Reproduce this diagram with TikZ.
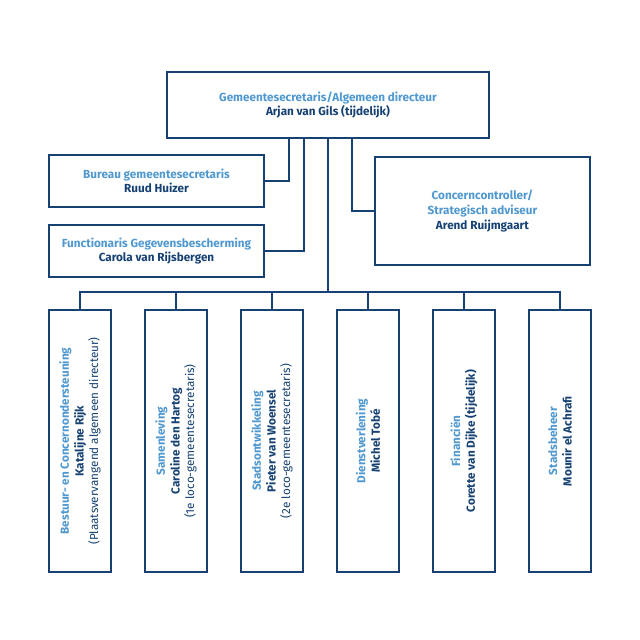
\documentclass[tikz,border=0pt]{standalone}
\usepackage{fontspec}
\setmainfont{Fira Sans}
\usetikzlibrary{calc}
\definecolor{navy}{RGB}{22,65,115}
\definecolor{lightblue}{RGB}{79,152,208}
\tikzset{
  unit/.style  = {draw=navy, line width=2pt, fill=white, inner sep=0pt,
                  align=center, font=\fontsize{10}{12.5}\selectfont},
  dept/.style  = {unit, minimum width=62*0.03cm, minimum height=262*0.03cm},
  link/.style  = {draw=navy, line width=2pt},
}
\newcommand{\role}[1]{\textcolor{lightblue}{\textbf{#1}}}
\newcommand{\who}[1]{\textcolor{navy}{\textbf{#1}}}
\newcommand{\note}[1]{\textcolor{navy}{#1}}

\begin{document}
\begin{tikzpicture}[x=0.03cm,y=-0.03cm]
\useasboundingbox (0,0) rectangle (640,640);

% -------------------- Nodes --------------------
\node[unit, minimum width=322*0.03cm, minimum height=66*0.03cm] (top) at (328,105)
  {\role{Gemeentesecretaris/Algemeen directeur}\\ \who{Arjan van Gils (tijdelijk)}};
\node[unit, minimum width=215*0.03cm, minimum height=52*0.03cm] (bureau) at (156.5,181)
  {\role{Bureau gemeentesecretaris}\\ \who{Ruud Huizer}};
\node[unit, minimum width=215*0.03cm, minimum height=52*0.03cm] (fg) at (156.5,251)
  {\role{Functionaris Gegevensbescherming}\\ \who{Carola van Rijsbergen}};
\node[unit, minimum width=215*0.03cm, minimum height=108*0.03cm] (cc) at (482.5,211)
  {\role{Concerncontroller/}\\ \role{Strategisch adviseur}\\ \who{Arend Ruijmgaart}};

% departments, text turned upward
\foreach \x/\txt [count=\i] in {
   80/{\role{Bestuur- en Concernondersteuning}\\ \who{Katalijne Rijk}\\ \note{(Plaatsvervangend algemeen directeur)}},
  176/{\role{Samenleving}\\ \who{Caroline den Hartog}\\ \note{(1e loco-gemeentesecretaris)}},
  272/{\role{Stadsontwikkeling}\\ \who{Pieter van Woensel}\\ \note{(2e loco-gemeentesecretaris)}},
  368/{\role{Dienstverlening}\\ \who{Michel Tobé}},
  464/{\role{Financiën}\\ \who{Corette van Dijke (tijdelijk)}},
  560/{\role{Stadsbeheer}\\ \who{Mounir el Achrafi}}}{
  \node[dept] (d\i) at (\x,441) {};
  \node[rotate=90, align=center, font=\fontsize{10}{12.5}\selectfont] (t\i) at (d\i.center) {\txt};
}

% -------------------- Connections --------------------
\coordinate (bus) at (328,292);
\draw[link] ($(top.south)+(-39,0)$) |- (bureau.east);
\draw[link] ($(top.south)+(-24,0)$) |- (fg.east);
\draw[link] ($(top.south)+(24,0)$) |- (cc.west);
\draw[link] (top.south) -- (bus);
\draw[link] (d1.north) |- (bus) -| (d6.north);
\foreach \i in {2,...,5}{
  \draw[link] (d\i.north) -- (d\i.north |- bus);
}
\end{tikzpicture}
\end{document}
